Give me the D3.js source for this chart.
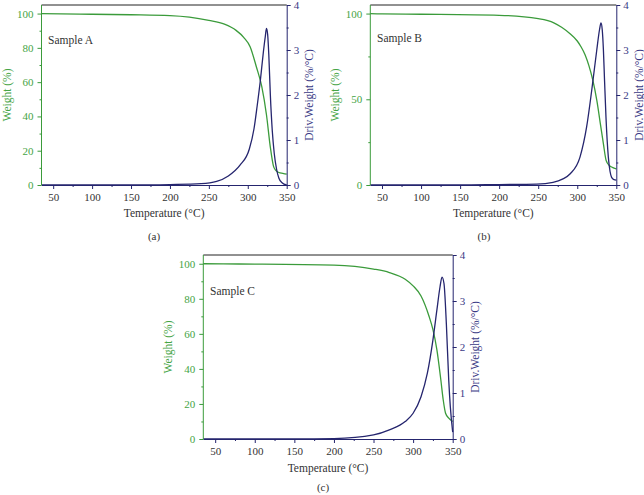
<!DOCTYPE html>
<html><head><meta charset="utf-8">
<script src="https://cdn.jsdelivr.net/npm/d3@7"></script>
<style>
body{margin:0;background:#fff;}
svg{display:block;font-family:"Liberation Serif","Times New Roman",serif;}
</style></head>
<body><svg id="c" width="644" height="495"></svg>
<script>
// ---- data ----
const xTicks = [50,100,150,200,250,300,350];
const tempA_w = [35,60,100,150,200,225,250,270,285,295,303,311,318,324,329,333,336,340,345,350];
const weightA = [100,99.8,99.6,99.3,98.8,97.9,96.0,93.8,90.2,86,80.7,69,57.4,41,22,11,8.5,7.3,6.8,6.3];
const tempA_d = [35,150,200,240,260,275,290,302,308,312,316,320,322.5,324,325.5,327,329,331.5,334,337,340,344,350];
const derivA = [0,0,0.01,0.03,0.08,0.2,0.44,0.8,1.25,1.75,2.3,2.95,3.3,3.48,3.35,2.9,2.0,1.2,0.7,0.35,0.15,0.05,0.0];

const tempB_w = [35,50,100,200,250,270,280,290,300,305,310,315,320,325,330,333.5,337,341,345,350];
const weightB = [100,99.8,99.6,99,97,94.6,92,88.5,84,80.5,76,69.5,61,49.5,34.5,24,14.3,11.4,10.3,9.4];
const tempB_d = [35,150,200,248,269,281,291,303.5,312,318.5,325,328.5,330.4,332,333.5,335,336.8,339.8,342,344,347,350];
const derivB = [0,0,0.01,0.02,0.06,0.13,0.25,0.62,1.29,2.1,3.0,3.45,3.6,3.45,3.0,2.3,1.5,0.62,0.3,0.17,0.12,0.11];

const tempC_w = [35,60,100,200,250,270,290,300,310,320,325,330,335,338,341,345,350];
const weightC = [100,99.9,99.8,99.2,97,95,91.2,87.4,81.6,70.2,62.5,51,33.8,22.4,14.7,11.9,10];
const tempC_d = [35,150,200,250,270,290,300,310,318,325,330,334,336.5,339,342,345,347,350];
const derivC = [0,0,0.01,0.09,0.2,0.38,0.56,0.92,1.43,2.15,2.8,3.31,3.52,3.38,2.5,1.28,0.7,0.15];

const weightTicksA = [0,20,40,60,80,100];
const weightTicksB = [0,50,100];
const derivTicks = [0,1,2,3,4];

const GREEN = "#3b9b3b", NAVY = "#25256e", GREEN_T = "#45a445", NAVY_T = "#3a3a85";

const panels = [
  {x0:41.5, x1:286.7, y0:5, y1:185, tw:tempA_w, w:weightA, td:tempA_d, d:derivA, wt:weightTicksA, wminor:10,
   sample:"Sample A", sx:48, sy:44, rtx:313, label:"(a)", lx:154, ly:240, tly:217},
  {x0:370.3, x1:616.3, y0:5, y1:185, tw:tempB_w, w:weightB, td:tempB_d, d:derivB, wt:weightTicksB, wminor:25,
   sample:"Sample B", sx:377, sy:42, rtx:642.5, label:"(b)", lx:484, ly:240, tly:217},
  {x0:203.3, x1:452.7, y0:255, y1:439, tw:tempC_w, w:weightC, td:tempC_d, d:derivC, wt:weightTicksA, wminor:10,
   sample:"Sample C", sx:210, sy:295, rtx:479, label:"(c)", lx:323, ly:491, tly:472}
];

const svg = d3.select("#c");

panels.forEach(p => {
  const x = d3.scaleLinear().domain([35,350]).range([p.x0,p.x1]);
  const yW = d3.scaleLinear().domain([0,105]).range([p.y1,p.y0]);
  const yD = d3.scaleLinear().domain([0,4]).range([p.y1,p.y0]);
  const g = svg.append("g");

  // top border
  g.append("line").attr("x1",p.x0).attr("x2",p.x1).attr("y1",p.y0).attr("y2",p.y0)
    .attr("stroke","#222").attr("stroke-width",1);

  // curves
  const lw = d3.line().x((d,i)=>x(p.tw[i])).y(d=>yW(d)).curve(d3.curveMonotoneX);
  const ld = d3.line().x((d,i)=>x(p.td[i])).y(d=>yD(d)).curve(d3.curveMonotoneX);
  g.append("path").attr("d",lw(p.w)).attr("fill","none").attr("stroke",GREEN).attr("stroke-width",1.3);
  g.append("path").attr("d",ld(p.d)).attr("fill","none").attr("stroke",NAVY).attr("stroke-width",1.3);

  // bottom axis
  const minorX = d3.range(75,350,50);
  const bx = g.append("g").attr("transform",`translate(0,${p.y1})`)
    .call(d3.axisBottom(x).tickValues(xTicks).tickSize(4).tickSizeOuter(0).tickPadding(4));
  bx.append("g").call(d3.axisBottom(x).tickValues(minorX).tickSize(2).tickFormat(""))
    .select(".domain").remove();
  bx.selectAll("line,path").attr("stroke",NAVY);
  bx.selectAll("text").attr("fill","#333").attr("font-size",11).attr("font-family","Liberation Serif");

  // left axis
  const minorW = d3.range(0,106,p.wminor).filter(v=>!p.wt.includes(v));
  const ax = g.append("g").attr("transform",`translate(${p.x0},0)`)
    .call(d3.axisLeft(yW).tickValues(p.wt).tickSize(4).tickSizeOuter(0).tickPadding(4));
  ax.append("g").call(d3.axisLeft(yW).tickValues(minorW).tickSize(2).tickFormat(""))
    .select(".domain").remove();
  ax.select(".domain").attr("d",`M0,${p.y1}V${p.y0}`);
  ax.selectAll("line,path").attr("stroke",GREEN);
  ax.selectAll("text").attr("fill",GREEN_T).attr("font-size",11).attr("font-family","Liberation Serif");

  // right axis
  const ar = g.append("g").attr("transform",`translate(${p.x1},0)`)
    .call(d3.axisRight(yD).tickValues(derivTicks).tickFormat(d3.format("d")).tickSize(4).tickSizeOuter(0).tickPadding(3));
  ar.append("g").call(d3.axisRight(yD).tickValues([0.5,1.5,2.5,3.5]).tickSize(2).tickFormat(""))
    .select(".domain").remove();
  ar.selectAll("line,path").attr("stroke",NAVY);
  ar.selectAll("text").attr("fill",NAVY_T).attr("font-size",11).attr("font-family","Liberation Serif");

  const ym = (p.y0+p.y1)/2, xm = (p.x0+p.x1)/2;
  g.append("text").attr("transform",`translate(${p.x0-31},${ym}) rotate(-90)`)
    .attr("text-anchor","middle").attr("fill",GREEN_T).attr("font-size",11.5).text("Weight (%)");
  g.append("text").attr("transform",`translate(${p.rtx},${ym}) rotate(-90)`)
    .attr("text-anchor","middle").attr("fill",NAVY_T).attr("font-size",11.5).text("Driv.Weight (%/°C)");
  g.append("text").attr("x",xm).attr("y",p.tly).attr("text-anchor","middle")
    .attr("fill","#333").attr("font-size",11.5).text("Temperature (°C)");
  g.append("text").attr("x",p.lx).attr("y",p.ly).attr("text-anchor","middle")
    .attr("fill","#333").attr("font-size",11).text(p.label);
  g.append("text").attr("x",p.sx).attr("y",p.sy)
    .attr("fill","#333").attr("font-size",11.5).text(p.sample);
});
</script></body></html>
